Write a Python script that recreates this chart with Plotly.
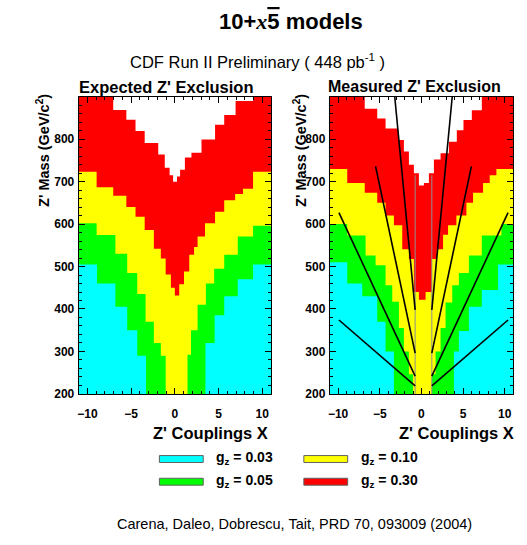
import plotly.graph_objects as go

W, H = 527, 545


def px(x):
    return x / W


def py(y):
    return 1 - y / H


COLORS = {"0.03": "#00FFFF", "0.05": "#00FF00", "0.10": "#FFFF00", "0.30": "#FF0000"}
LEGEND_LABELS = ["0.03", "0.05", "0.10", "0.30"]

# ---------------- Expected exclusion (left panel): mass limit vs coupling X -------------
EXP_X_30 = [-11, -7.05, -5.55, -4.5, -3.45, -1.9, -1.15, -0.6, -0.2, 0.25, 0.6, 1.15, 1.9, 3.05, 4.6, 5.65, 6.95, 8.95, 11]
EXP_M_30 = [900, 869, 846, 819, 791, 764, 733, 715, 700, 712, 728, 757, 768, 799, 834, 857, 890, 900]

EXP_X_10 = [-11, -8.95, -7.05, -5.55, -4.5, -3.45, -2.4, -1.6, -1.05, -0.45, 0.0, 0.5, 1.05, 1.65, 2.2, 2.6, 3.45, 4.6, 5.65, 6.9, 7.8, 8.95, 11]
EXP_M_10 = [723, 687, 667, 640, 617, 586, 542, 519, 481, 450, 432, 458, 488, 528, 546, 571, 602, 629, 656, 671, 683, 723]

EXP_X_05 = [-11, -8.95, -6.8, -5.45, -4.3, -3.35, -2.4, -1.6, -1.05, 1.45, 1.85, 2.6, 3.55, 4.5, 5.65, 7.2, 8.95, 11]
EXP_M_05 = [602, 574, 530, 485, 435, 370, 320, 290, 150, 292, 350, 410, 460, 495, 528, 571, 596]

EXP_X_03 = [-11, -8.9, -6.8, -5.45, -4.3, -3.3, 3.5, 4.55, 5.65, 7.2, 8.95, 11]
EXP_M_03 = [505, 460, 405, 350, 290, 150, 320, 385, 430, 470, 505]

# ---------------- Measured exclusion (right panel) -------------
MEA_X_30 = [-11, -6.8, -5.3, -4.3, -2.8, -2.1, -1.5, -0.9, -0.3, 0.3, 0.9, 1.5, 2.3, 3.3, 4.25, 5.05, 6.05, 7.25, 11]
MEA_M_30 = [900, 872, 849, 825, 798, 771, 740, 720, 691, 697, 720, 752, 767, 794, 821, 845, 868, 900]

MEA_X_10 = [-11, -8.9, -6.8, -5.3, -4.3, -3.3, -2.3, -1.5, -0.9, -0.3, 0.5, 1.25, 1.85, 2.6, 3.2, 4.2, 5.4, 6.2, 7.4, 8.2, 9.0, 11]
MEA_M_10 = [730, 697, 674, 650, 620, 597, 541, 518, 440, 422, 440, 518, 541, 575, 597, 620, 650, 674, 697, 715, 730]

MEA_X_05 = [-11, -8.9, -6.7, -5.5, -4.3, -3.5, -2.7, -2.1, -1.5, -1.0, 1.25, 1.7, 2.3, 2.9, 3.7, 4.5, 5.7, 7.25, 9.6, 11]
MEA_M_05 = [600, 573, 526, 503, 456, 417, 355, 300, 246, 150, 246, 300, 355, 415, 456, 485, 526, 573, 600]

MEA_X_03 = [-11, -8.9, -7.1, -5.3, -4.3, -3.3, 3.9, 4.5, 5.7, 7.25, 9.2, 11]
MEA_M_03 = [510, 460, 430, 370, 300, 150, 300, 348, 405, 445, 505]

# ---------------- Model lines on measured panel -------------
MODEL_X_IN_L = -0.75
MODEL_X_IN_R = 1.25
MODEL_M_IN = [219, 242, 296, 398]
MODEL_X_OUT_L = [-9.9, -9.9, -5.5, -3.2]
MODEL_X_OUT_R = [10.4, 10.4, 6.0, 3.7]
MODEL_M_OUT = [374, 627, 736, 900]
VERT_M = [200, 715]

X_TICKS = [-10, -5, 0, 5, 10]
Y_TICKS = [200, 300, 400, 500, 600, 700, 800]

FONT = "Liberation Sans, Arial, sans-serif"

fig = go.Figure()

panels = [
    ("x", "y", [("0.30", EXP_X_30, EXP_M_30), ("0.10", EXP_X_10, EXP_M_10),
                ("0.05", EXP_X_05, EXP_M_05), ("0.03", EXP_X_03, EXP_M_03)]),
    ("x2", "y2", [("0.30", MEA_X_30, MEA_M_30), ("0.10", MEA_X_10, MEA_M_10),
                  ("0.05", MEA_X_05, MEA_M_05), ("0.03", MEA_X_03, MEA_M_03)]),
]
for xa, ya, series in panels:
    for g, xs, ms in series:
        fig.add_trace(go.Scatter(
            x=xs, y=list(ms) + [ms[-1]], xaxis=xa, yaxis=ya,
            mode="lines", line=dict(width=0, shape="hv"),
            fill="tozeroy", fillcolor=COLORS[g],
            hoverinfo="skip", showlegend=False))

# vertical grey lines
for xv in [MODEL_X_IN_L, MODEL_X_IN_R]:
    fig.add_trace(go.Scatter(x=[xv, xv], y=VERT_M, xaxis="x2", yaxis="y2", mode="lines",
                             line=dict(color="#909090", width=1), hoverinfo="skip", showlegend=False))
for i in range(len(MODEL_M_IN)):
    fig.add_trace(go.Scatter(x=[MODEL_X_IN_L, MODEL_X_OUT_L[i]], y=[MODEL_M_IN[i], MODEL_M_OUT[i]],
                             xaxis="x2", yaxis="y2", mode="lines",
                             line=dict(color="black", width=1.6), hoverinfo="skip", showlegend=False))
    fig.add_trace(go.Scatter(x=[MODEL_X_IN_R, MODEL_X_OUT_R[i]], y=[MODEL_M_IN[i], MODEL_M_OUT[i]],
                             xaxis="x2", yaxis="y2", mode="lines",
                             line=dict(color="black", width=1.6), hoverinfo="skip", showlegend=False))

tickfont = dict(family=FONT, size=12, color="black", weight="bold")
xcommon = dict(range=[-11, 11], tickvals=X_TICKS, ticks="inside", ticklen=6, tickwidth=1,
               tickcolor="black", showline=True, linecolor="black", linewidth=1, mirror="ticks",
               minor=dict(dtick=1, ticks="inside", ticklen=3, tickcolor="black", tickwidth=1),
               showgrid=False, zeroline=False, tickfont=tickfont, ticklabelstandoff=9)
ycommon = dict(range=[200, 900], tickvals=Y_TICKS, ticks="inside", ticklen=6, tickwidth=1,
               tickcolor="black", showline=True, linecolor="black", linewidth=1, mirror="ticks",
               minor=dict(dtick=20, ticks="inside", ticklen=3, tickcolor="black", tickwidth=1),
               showgrid=False, zeroline=False, tickfont=tickfont, ticklabelstandoff=1)

fig.update_layout(
    width=W, height=H, margin=dict(l=0, r=0, t=0, b=0),
    paper_bgcolor="white", plot_bgcolor="white",
    font=dict(family=FONT, color="black"),
    xaxis=dict(domain=[px(77), px(270)], anchor="y", **xcommon),
    yaxis=dict(domain=[py(399), py(98)], anchor="x", **ycommon),
    xaxis2=dict(domain=[px(329), px(513)], anchor="y2", **xcommon),
    yaxis2=dict(domain=[py(399), py(98)], anchor="x2", **ycommon),
)

ann = []
ann.append(dict(text="<b>10+<span style=\"font-family:'Liberation Serif'\"><i>x</i></span>"
                     "<span style=\"text-decoration:overline\">5</span> models</b>",
                x=px(290), y=py(22), font=dict(size=22)))
ann.append(dict(text="CDF Run II Preliminary ( 448 pb<sup>-1</sup> )", x=px(256), y=py(62), font=dict(size=16.5)))
ann.append(dict(text="<b>Expected Z' Exclusion</b>", x=px(165), y=py(88), font=dict(size=16.5)))
ann.append(dict(text="<b>Measured Z' Exclusion</b>", x=px(414), y=py(88), font=dict(size=16)))
for xc in [41, 299]:
    ann.append(dict(text="<b>Z' Mass (GeV/c<sup>2</sup>)</b>", x=px(xc), y=py(152), textangle=-90,
                    font=dict(size=14.5)))
for xr in [269, 516]:
    ann.append(dict(text="<b>Z' Couplings X</b>", x=px(xr), y=py(439), xanchor="right", font=dict(size=16.5)))
ann.append(dict(text="Carena, Daleo, Dobrescu, Tait, PRD 70, 093009 (2004)", x=px(294), y=py(531),
                font=dict(size=14.5)))

legend_pos = {"0.03": (158, 465), "0.05": (158, 488), "0.10": (303, 465), "0.30": (303, 488)}
shapes = []
for g in LEGEND_LABELS:
    x0, yc = legend_pos[g]
    shapes.append(dict(type="rect", xref="paper", yref="paper", x0=px(x0), x1=px(x0 + 44),
                       y0=py(yc + 3.5), y1=py(yc - 3.5), fillcolor=COLORS[g],
                       line=dict(color="#606060", width=1)))
    ann.append(dict(text="<b>g<sub>z</sub> = " + g + "</b>", x=px(x0 + 55), y=py(yc - 1), xanchor="left",
                    font=dict(size=14)))

for a in ann:
    a.setdefault("xref", "paper")
    a.setdefault("yref", "paper")
    a.setdefault("showarrow", False)
    a.setdefault("xanchor", "center")
    a.setdefault("yanchor", "middle")
fig.update_layout(annotations=ann, shapes=shapes)

fig.write_html("out.html")
